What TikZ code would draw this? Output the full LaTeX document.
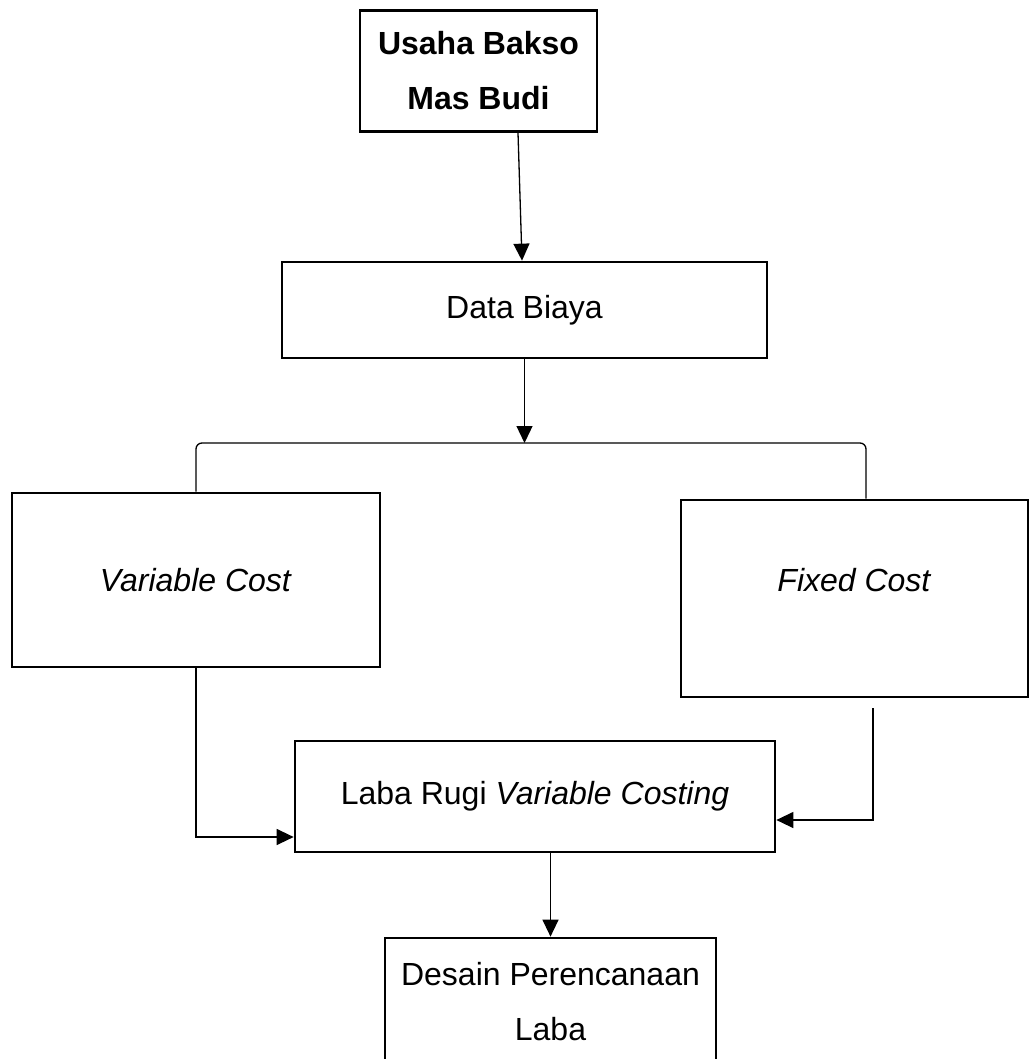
\documentclass[tikz,border=0pt]{standalone}
\usepackage{fontspec}
\setmainfont{Liberation Sans}
\usetikzlibrary{arrows.meta}

\begin{document}
\begin{tikzpicture}[x=1pt, y=-1pt,
    block/.style={draw, line width=2.7pt, align=center, inner sep=0pt, font=\fontsize{32}{42}\selectfont},
    arr/.style={line width=1.3pt, -{Triangle[length=17pt, width=16pt]}},
    link/.style={line width=1.3pt}
]
\clip (0,0) rectangle (1035,1059);
\node[block, minimum width=237pt, minimum height=121pt, font=\bfseries\fontsize{32}{55}\selectfont] (usaha) at (478.5, 71) {Usaha Bakso\\Mas Budi};
\node[block, minimum width=485pt, minimum height=96pt] (data) at (524.5, 310) {Data Biaya};
\node[block, minimum width=368pt, minimum height=174pt] (vc) at (196, 580) {\textit{Variable Cost}};
\node[block, minimum width=347pt, minimum height=197pt, text depth=37pt] (fc) at (854.5, 598.5) {\textit{Fixed Cost}};
\node[block, minimum width=480pt, minimum height=111pt] (laba) at (535, 796.5) {Laba Rugi \textit{Variable Costing}};
\node[block, minimum width=331pt, minimum height=128pt, font=\fontsize{32}{55}\selectfont] (desain) at (550.5, 1002) {Desain Perencanaan\\Laba};
\coordinate (split) at (data.south |- 0,443);
\draw[arr] ([xshift=39.5pt]usaha.south) -- ([xshift=-2.5pt]data.north);
\draw[arr] (data.south) -- (split);
\draw[link, rounded corners=6pt] (vc.north) |- (split) -| ([xshift=11.5pt]fc.north);
\draw[arr] (vc.south) |- ([yshift=-40.5pt]laba.west);
\draw[arr, shorten <=10pt] ([xshift=18.5pt]fc.south) |- ([yshift=-23.5pt]laba.east);
\draw[arr] (laba.south -| desain.north) -- (desain.north);
\end{tikzpicture}
\end{document}
